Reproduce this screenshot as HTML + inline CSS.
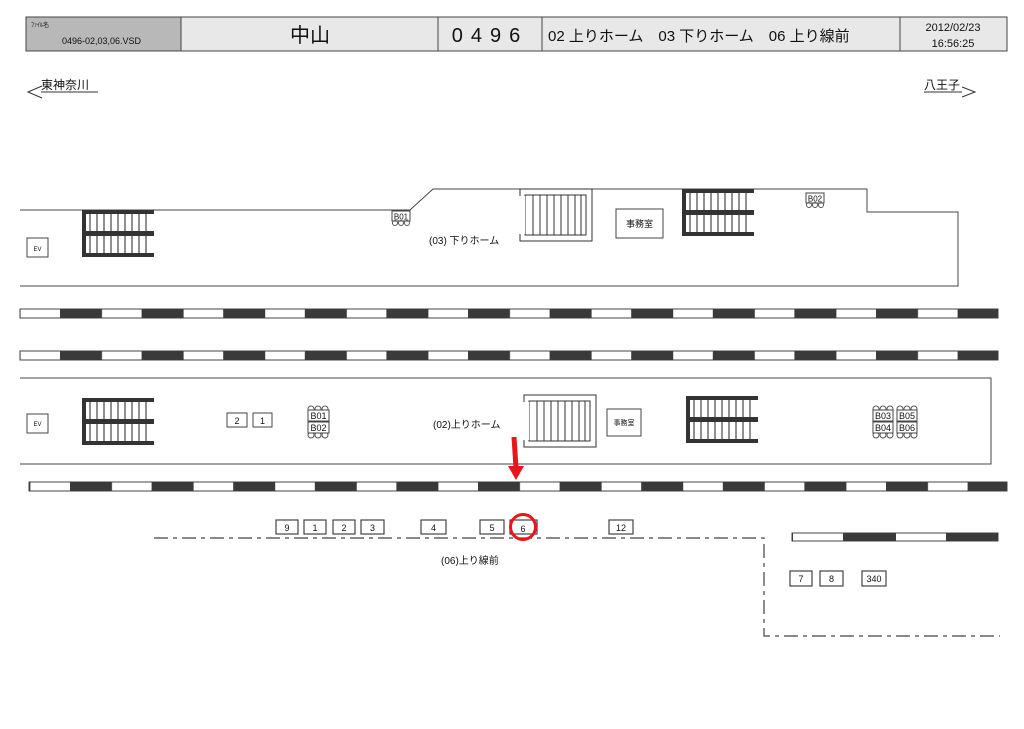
<!DOCTYPE html>
<html><head><meta charset="utf-8"><style>
body{margin:0;background:#fff;width:1024px;height:724px;overflow:hidden;font-family:"Liberation Sans","Noto Sans CJK JP",sans-serif}
svg text{font-family:"Liberation Sans","Noto Sans CJK JP",sans-serif;fill:#111}
</style></head><body>
<svg width="1024" height="724" viewBox="0 0 1024 724" xmlns="http://www.w3.org/2000/svg">
<defs>
<pattern id="pA" patternUnits="userSpaceOnUse" x="60" y="0" width="81.6" height="20"><rect x="0" y="0" width="42" height="20" fill="#3a3a3a"/></pattern>
<pattern id="pB" patternUnits="userSpaceOnUse" x="70" y="0" width="81.6" height="20"><rect x="0" y="0" width="42" height="20" fill="#3a3a3a"/></pattern>
<pattern id="pC" patternUnits="userSpaceOnUse" x="843" y="0" width="103" height="20"><rect x="0" y="0" width="53" height="20" fill="#3a3a3a"/></pattern>
<g id="dst">
 <rect x="0" y="0" width="72" height="47" fill="none"/>
 <g stroke="#222" stroke-width="1">
  <line x1="8" y1="4" x2="8" y2="43"/><line x1="15" y1="4" x2="15" y2="43"/><line x1="22" y1="4" x2="22" y2="43"/><line x1="29" y1="4" x2="29" y2="43"/><line x1="36" y1="4" x2="36" y2="43"/><line x1="43" y1="4" x2="43" y2="43"/><line x1="50" y1="4" x2="50" y2="43"/><line x1="57" y1="4" x2="57" y2="43"/><line x1="64" y1="4" x2="64" y2="43"/>
 </g>
 <rect x="0" y="0" width="4" height="47" fill="#333"/>
 <rect x="0" y="0" width="72" height="4" fill="#333"/>
 <rect x="0" y="21" width="72" height="5" fill="#333"/>
 <rect x="0" y="43" width="72" height="4" fill="#333"/>
</g>
<g id="st">
 <rect x="0" y="0" width="72" height="52" fill="none" stroke="#333"/>
 <rect x="5" y="6" width="61" height="40" fill="#fff" stroke="#333"/>
 <g stroke="#333"><line x1="13" y1="6" x2="13" y2="46"/><line x1="20" y1="6" x2="20" y2="46"/><line x1="27" y1="6" x2="27" y2="46"/><line x1="34" y1="6" x2="34" y2="46"/><line x1="41" y1="6" x2="41" y2="46"/><line x1="48" y1="6" x2="48" y2="46"/><line x1="55" y1="6" x2="55" y2="46"/><line x1="61" y1="6" x2="61" y2="46"/></g>
 <rect x="-1" y="7" width="6" height="38" fill="#fff"/>
</g>
</defs>

<!-- header -->
<rect x="26" y="17" width="155" height="34" fill="#b8b8b8" stroke="#444"/>
<rect x="181" y="17" width="257" height="34" fill="#e8e8e8" stroke="#444"/>
<rect x="438" y="17" width="104" height="34" fill="#e8e8e8" stroke="#444"/>
<rect x="542" y="17" width="358" height="34" fill="#e8e8e8" stroke="#444"/>
<rect x="900" y="17" width="107" height="34" fill="#e8e8e8" stroke="#444"/>
<text x="31" y="27" font-size="6">ﾌｧｲﾙ名</text>
<text x="62" y="44" font-size="9">0496-02,03,06.VSD</text>
<text x="310" y="42" font-size="20" text-anchor="middle">中山</text>
<text x="490" y="42" font-size="20" text-anchor="middle" letter-spacing="8">0496</text>
<text x="548" y="41" font-size="15">02 上りホーム　03 下りホーム　06 上り線前</text>
<text x="953" y="31" font-size="11" text-anchor="middle">2012/02/23</text>
<text x="953" y="47" font-size="11" text-anchor="middle">16:56:25</text>

<!-- directions -->
<text x="41" y="89" font-size="12">東神奈川</text>
<line x1="41" y1="92" x2="98" y2="92" stroke="#333"/>
<polyline points="42,86 28,92 42,98" fill="none" stroke="#333"/>
<text x="924" y="89" font-size="12">八王子</text>
<line x1="924" y1="92" x2="962" y2="92" stroke="#333"/>
<polyline points="962,87 975,92 962,97" fill="none" stroke="#333"/>

<!-- platform 03 -->
<polyline points="20,210 410,210 433,189 867,189 867,212 958,212 958,286 20,286" fill="none" stroke="#444"/>
<use href="#dst" x="82" y="210"/>
<use href="#dst" x="682" y="189"/>
<use href="#st" x="520" y="189"/>
<rect x="27" y="238" width="21" height="19" fill="#fff" stroke="#444"/>
<text x="37.5" y="251" font-size="6" text-anchor="middle">EV</text>
<rect x="616" y="209" width="47" height="29" fill="#fff" stroke="#444"/>
<text x="639.5" y="227" font-size="9" text-anchor="middle">事務室</text>
<rect x="392" y="211" width="18" height="10" fill="#fff" stroke="#444"/><text x="401" y="219.5" font-size="8" text-anchor="middle">B01</text>
<g fill="none" stroke="#555"><circle cx="395" cy="223" r="2.5"/><circle cx="401" cy="223" r="2.5"/><circle cx="407" cy="223" r="2.5"/></g>
<rect x="806" y="193" width="18" height="10" fill="#fff" stroke="#444"/><text x="815" y="201.5" font-size="8" text-anchor="middle">B02</text>
<g fill="none" stroke="#555"><circle cx="809" cy="205" r="2.5"/><circle cx="815" cy="205" r="2.5"/><circle cx="821" cy="205" r="2.5"/></g>
<text x="429" y="244" font-size="10">(03) 下りホーム</text>

<!-- tactile rows -->
<rect x="20" y="309" width="978" height="9" fill="#fff" stroke="#444"/>
<rect x="20" y="309" width="978" height="9" fill="url(#pA)"/>
<rect x="20" y="351" width="978" height="9" fill="#fff" stroke="#444"/>
<rect x="20" y="351" width="978" height="9" fill="url(#pA)"/>

<!-- platform 02 -->
<polyline points="20,378 991,378 991,464 20,464" fill="none" stroke="#444"/>
<use href="#dst" x="82" y="398"/>
<use href="#dst" x="686" y="396"/>
<use href="#st" x="524" y="395"/>
<rect x="27" y="414" width="21" height="19" fill="#fff" stroke="#444"/>
<text x="37.5" y="426" font-size="6" text-anchor="middle">EV</text>
<rect x="607" y="409" width="34" height="27" fill="#fff" stroke="#444"/>
<text x="624" y="425" font-size="7" text-anchor="middle">事務室</text>
<rect x="227" y="413" width="20" height="14" fill="#fff" stroke="#444"/><text x="237" y="424" font-size="9" text-anchor="middle">2</text>
<rect x="253" y="413" width="19" height="14" fill="#fff" stroke="#444"/><text x="262.5" y="424" font-size="9" text-anchor="middle">1</text>
<g font-size="9" text-anchor="middle">
<g fill="#fff" stroke="#555"><circle cx="311" cy="409" r="3"/><circle cx="318" cy="409" r="3"/><circle cx="325" cy="409" r="3"/><circle cx="311" cy="435" r="3"/><circle cx="318" cy="435" r="3"/><circle cx="325" cy="435" r="3"/></g>
<rect x="308" y="410" width="21" height="11" fill="#fff" stroke="#444"/><text x="318.5" y="419">B01</text>
<rect x="308" y="422" width="21" height="11" fill="#fff" stroke="#444"/><text x="318.5" y="431">B02</text>
<g fill="#fff" stroke="#555"><circle cx="876" cy="409" r="3"/><circle cx="883" cy="409" r="3"/><circle cx="890" cy="409" r="3"/><circle cx="876" cy="435" r="3"/><circle cx="883" cy="435" r="3"/><circle cx="890" cy="435" r="3"/>
<circle cx="900" cy="409" r="3"/><circle cx="907" cy="409" r="3"/><circle cx="914" cy="409" r="3"/><circle cx="900" cy="435" r="3"/><circle cx="907" cy="435" r="3"/><circle cx="914" cy="435" r="3"/></g>
<rect x="873" y="410" width="20" height="11" fill="#fff" stroke="#444"/><text x="883" y="419">B03</text>
<rect x="873" y="422" width="20" height="11" fill="#fff" stroke="#444"/><text x="883" y="431">B04</text>
<rect x="897" y="410" width="20" height="11" fill="#fff" stroke="#444"/><text x="907" y="419">B05</text>
<rect x="897" y="422" width="20" height="11" fill="#fff" stroke="#444"/><text x="907" y="431">B06</text>
</g>
<text x="433" y="428" font-size="10">(02)上りホーム</text>

<rect x="29" y="482" width="978" height="9" fill="#fff" stroke="#444"/>
<rect x="29" y="482" width="978" height="9" fill="url(#pB)"/>

<!-- red arrow -->
<line x1="514" y1="437" x2="516" y2="468" stroke="#e8161b" stroke-width="5"/>
<polygon points="508,466 524,466 516,480" fill="#e8161b"/>

<!-- track 06 -->
<polyline points="154,538 764,538 764,636 1000,636" fill="none" stroke="#444" stroke-width="1.2" stroke-dasharray="14,5,4,5"/>
<g font-size="9" text-anchor="middle" stroke-width="1.2">
<rect x="276" y="520" width="22" height="14" fill="#fff" stroke="#444"/><text x="287" y="531">9</text>
<rect x="304" y="520" width="22" height="14" fill="#fff" stroke="#444"/><text x="315" y="531">1</text>
<rect x="333" y="520" width="22" height="14" fill="#fff" stroke="#444"/><text x="344" y="531">2</text>
<rect x="361" y="520" width="23" height="14" fill="#fff" stroke="#444"/><text x="372.5" y="531">3</text>
<rect x="421" y="520" width="25" height="14" fill="#fff" stroke="#444"/><text x="433.5" y="531">4</text>
<rect x="480" y="520" width="24" height="14" fill="#fff" stroke="#444"/><text x="492" y="531">5</text>
<rect x="510" y="520" width="27" height="14" fill="#fff" stroke="#444"/><text x="523" y="532">6</text>
<rect x="609" y="520" width="24" height="14" fill="#fff" stroke="#444"/><text x="621" y="531">12</text>
<rect x="790" y="571" width="22" height="15" fill="#fff" stroke="#444"/><text x="801" y="582">7</text>
<rect x="820" y="571" width="23" height="15" fill="#fff" stroke="#444"/><text x="831.5" y="582">8</text>
<rect x="862" y="571" width="24" height="15" fill="#fff" stroke="#444"/><text x="874" y="582">340</text>
</g>
<circle cx="523" cy="527" r="12.5" fill="none" stroke="#e8161b" stroke-width="3"/>
<text x="441" y="564" font-size="10">(06)上り線前</text>

<rect x="792" y="533" width="206" height="8" fill="#fff" stroke="#444"/>
<rect x="792" y="533" width="206" height="8" fill="url(#pC)"/>
</svg>
</body></html>
